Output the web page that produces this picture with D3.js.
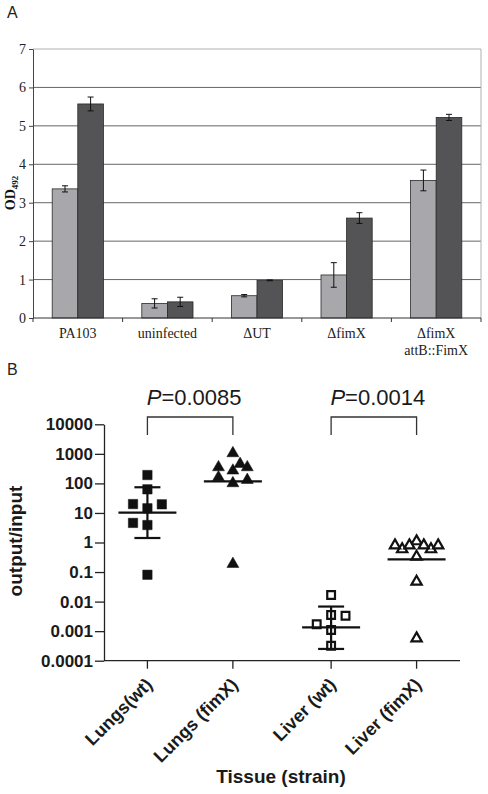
<!DOCTYPE html>
<html><head><meta charset="utf-8">
<script src="https://cdnjs.cloudflare.com/ajax/libs/d3/7.8.5/d3.min.js"></script>
<style>body{margin:0;background:#fff} svg{display:block}</style>
</head><body>
<script>
// ---------- Panel A data ----------
const categoriesA = [["PA103"], ["uninfected"], ["ΔUT"], ["ΔfimX"], ["ΔfimX", "attB::FimX"]];
const seriesLight = [3.36, 0.38, 0.58, 1.12, 3.58];
const errLight    = [0.08, 0.12, 0.03, 0.32, 0.27];
const seriesDark  = [5.57, 0.42, 0.98, 2.60, 5.22];
const errDark     = [0.18, 0.12, 0.01, 0.14, 0.08];
const ticksA = [0, 1, 2, 3, 4, 5, 6, 7];

// ---------- Panel B data ----------
const tissues = ["Lungs", "Liver"];
const strains = ["wt", "fimX"];
const groupLabels = ["Lungs(wt)", "Lungs (fimX)", "Liver (wt)", "Liver (fimX)"];
const lungsWt   = [192, 63, 14.4, 20, 19.6, 3.9, 4.6, 0.081];
const lungsFimX = [1047, 271, 351, 351, 454, 101, 161, 130, 0.187];
const liverWt   = [0.0167, 0.0035, 0.0011, 0.0017, 0.0033, 0.00032];
const liverFimX = [1.1, 0.33, 0.59, 0.59, 0.80, 0.80, 0.80, 0.80, 0.047, 0.00057];
const groupMeans = [10.2, 117, 0.00135, 0.27];
const ciLow  = [1.42, null, 0.00025, null];
const ciHigh = [74, null, 0.0068, null];
const ticksB = [1e-4, 1e-3, 1e-2, 1e-1, 1, 10, 100, 1000, 10000];
const tickLabelsB = ["0.0001", "0.001", "0.01", "0.1", "1", "10", "100", "1000", "10000"];
const pValues = ["0.0085", "0.0014"];

const W = 488, H = 794;
const svg = d3.select("body").append("svg").attr("width", W).attr("height", H);

// ================= Panel A =================
const serif = "'Liberation Serif','Times New Roman',serif";
const sans = "'Liberation Sans',Arial,sans-serif";
svg.append("text").attr("x", 7).attr("y", 18).attr("font-family", sans).attr("font-size", 16).attr("fill", "#222").text("A");

const yA = d3.scaleLinear().domain([0, 7]).range([318, 49]);
const xA = d3.scaleBand().domain(d3.range(categoriesA.length)).range([33, 481]).padding(0);
const x1 = d3.scaleBand().domain([0, 1]).range([0, xA.bandwidth()]).paddingInner(0).paddingOuter(0.75);

const gA = svg.append("g");
gA.selectAll("line.grid").data(ticksA.filter(t => t > 0 && t < 7)).join("line")
  .attr("x1", 33).attr("x2", 481).attr("y1", d => yA(d)).attr("y2", d => yA(d))
  .attr("stroke", "#666").attr("stroke-width", 1);
gA.append("line").attr("x1", 33).attr("x2", 481).attr("y1", yA(7)).attr("y2", yA(7)).attr("stroke", "#b0b0b0");
gA.append("line").attr("x1", 481).attr("x2", 481).attr("y1", yA(7)).attr("y2", yA(0)).attr("stroke", "#b0b0b0");

const axA = gA.append("g").attr("transform", "translate(33,0)")
  .call(d3.axisLeft(yA).tickValues(ticksA).tickFormat(d3.format("d")).tickSize(4).tickSizeOuter(0).tickPadding(3));
axA.selectAll("text").attr("font-family", serif).attr("font-size", 14).attr("fill", "#222");
axA.selectAll("line,path").attr("stroke", "#444");

const groupsA = categoriesA.map((c, i) => ({ i, vals: [
  { s: 0, v: seriesLight[i], e: errLight[i] },
  { s: 1, v: seriesDark[i], e: errDark[i] } ] }));
const barFill = ["#a8a8ac", "#545456"];
const gBars = gA.selectAll("g.grp").data(groupsA).join("g").attr("transform", d => `translate(${xA(d.i)},0)`);
gBars.selectAll("rect").data(d => d.vals).join("rect")
  .attr("x", d => x1(d.s)).attr("width", x1.bandwidth())
  .attr("y", d => yA(d.v)).attr("height", d => yA(0) - yA(d.v))
  .attr("fill", d => barFill[d.s]).attr("stroke", "#2a2a2a").attr("stroke-width", 0.8);
const eb = gBars.selectAll("g.eb").data(d => d.vals).join("g");
eb.append("line").attr("x1", d => x1(d.s) + x1.bandwidth() / 2).attr("x2", d => x1(d.s) + x1.bandwidth() / 2)
  .attr("y1", d => yA(d.v + d.e)).attr("y2", d => yA(d.v - d.e)).attr("stroke", "#111");
[1, -1].forEach(sg => {
  eb.append("line").attr("x1", d => x1(d.s) + x1.bandwidth() / 2 - 3).attr("x2", d => x1(d.s) + x1.bandwidth() / 2 + 3)
    .attr("y1", d => yA(d.v + sg * d.e)).attr("y2", d => yA(d.v + sg * d.e)).attr("stroke", "#111");
});

gA.append("line").attr("x1", 33).attr("x2", 481).attr("y1", yA(0)).attr("y2", yA(0)).attr("stroke", "#333");
const bounds = xA.domain().map(d => xA(d)).concat([xA.range()[1]]);
gA.selectAll("line.xt").data(bounds).join("line")
  .attr("x1", d => d).attr("x2", d => d).attr("y1", yA(0)).attr("y2", yA(0) + 4).attr("stroke", "#333");
const xl = gA.selectAll("text.xl").data(categoriesA).join("text")
  .attr("font-family", serif).attr("font-size", 14).attr("fill", "#222").attr("text-anchor", "middle");
xl.each(function (lines, i) {
  const t = d3.select(this);
  lines.forEach((ln, k) => t.append("tspan").attr("x", xA(i) + xA.bandwidth() / 2).attr("y", 338 + k * 17).text(ln));
});
const yl = gA.append("text").attr("transform", "translate(15,193) rotate(-90)").attr("text-anchor", "middle")
  .attr("font-family", serif).attr("font-weight", "bold").attr("font-size", 14).attr("fill", "#111");
yl.append("tspan").text("OD");
yl.append("tspan").attr("font-size", 9).attr("dy", 3).text("492");

// ================= Panel B =================
svg.append("text").attr("x", 7).attr("y", 375).attr("font-family", sans).attr("font-size", 16).attr("fill", "#222").text("B");

const yB = d3.scaleLog().domain([1e-4, 1e4]).range([660.7, 424.3]);
const xOuter = d3.scaleBand().domain(tissues).range([104, 460]).paddingInner(0.062).paddingOuter(0);
const xInner = d3.scalePoint().domain(strains).range([0, xOuter.bandwidth()]).padding(0.508);
const groupX = groupLabels.map((g, i) => xOuter(tissues[Math.floor(i / 2)]) + xInner(strains[i % 2]));

const gB = svg.append("g");
const axB = gB.append("g").attr("transform", "translate(104,0)")
  .call(d3.axisLeft(yB).tickValues(ticksB).tickFormat((d, i) => tickLabelsB[i]).tickSize(9).tickSizeOuter(0).tickPadding(2));
axB.selectAll("text").attr("font-family", sans).attr("font-weight", "bold").attr("font-size", 17).attr("fill", "#1a1a1a");
axB.selectAll("line,path").attr("stroke", "#222").attr("stroke-width", 1.3);

gB.append("line").attr("x1", 104).attr("x2", 460).attr("y1", yB(1e-4)).attr("y2", yB(1e-4)).attr("stroke", "#222").attr("stroke-width", 1.3);
gB.selectAll("line.xt").data(groupX).join("line")
  .attr("x1", d => d).attr("x2", d => d).attr("y1", yB(1e-4)).attr("y2", yB(1e-4) + 8).attr("stroke", "#222").attr("stroke-width", 1.3);
gB.selectAll("text.xl").data(groupLabels).join("text")
  .attr("transform", (d, i) => `translate(${groupX[i] + 6},${yB(1e-4) + 25}) rotate(-45)`)
  .attr("text-anchor", "end").attr("font-family", sans).attr("font-weight", "bold").attr("font-size", 18)
  .attr("fill", "#1a1a1a").text(d => d);
gB.append("text").attr("x", 281).attr("y", 783).attr("text-anchor", "middle").attr("font-family", sans)
  .attr("font-weight", "bold").attr("font-size", 19).attr("fill", "#1a1a1a").text("Tissue (strain)");
gB.append("text").attr("transform", "translate(22,541) rotate(-90)").attr("text-anchor", "middle").attr("font-family", sans)
  .attr("font-weight", "bold").attr("font-size", 19).attr("fill", "#1a1a1a").text("output/input");

// dodge layout (computed from values)
const HALF = 7.2;
function dodge(values, cx) {
  const cand = [0, -2, 2, 1, -1, 3, -3, 4, -4, 5, -5];
  const placed = [];
  values.forEach(v => {
    const y = yB(v);
    for (const c of cand) {
      if (!placed.some(p => p.c === c && Math.abs(p.y - y) < 9.5)) { placed.push({ v, y, c }); break; }
    }
  });
  return placed.map(p => ({ ...p, x: cx + p.c * HALF }));
}
const groupData = [lungsWt, lungsFimX, liverWt, liverFimX];
const symType = [d3.symbolSquare, d3.symbolTriangle, d3.symbolSquare, d3.symbolTriangle];
const symSize = [88, 62, 60, 46];
const filled = [true, true, false, false];

groupData.forEach((vals, gi) => {
  const pts = dodge(vals, groupX[gi]);
  gB.selectAll(null).data(pts).join("path")
    .attr("transform", d => `translate(${d.x},${d.y})`)
    .attr("d", d3.symbol().type(symType[gi]).size(symSize[gi]))
    .attr("fill", filled[gi] ? "#111" : "#fff")
    .attr("stroke", "#111").attr("stroke-width", filled[gi] ? 0.5 : 2.2);
  gB.append("line").attr("x1", groupX[gi] - 29).attr("x2", groupX[gi] + 29)
    .attr("y1", yB(groupMeans[gi])).attr("y2", yB(groupMeans[gi])).attr("stroke", "#111").attr("stroke-width", 2.2);
  if (ciLow[gi] != null) {
    gB.append("line").attr("x1", groupX[gi]).attr("x2", groupX[gi])
      .attr("y1", yB(ciLow[gi])).attr("y2", yB(ciHigh[gi])).attr("stroke", "#111").attr("stroke-width", 2.2);
    [ciLow[gi], ciHigh[gi]].forEach(v => {
      gB.append("line").attr("x1", groupX[gi] - 13).attr("x2", groupX[gi] + 13)
        .attr("y1", yB(v)).attr("y2", yB(v)).attr("stroke", "#111").attr("stroke-width", 2.2);
    });
  }
});

pValues.forEach((p, k) => {
  const xa = groupX[2 * k], xb = groupX[2 * k + 1];
  const top = 417;
  gB.append("path").attr("d", `M${xa},${top + 18}V${top}H${xb}V${top + 18}`)
    .attr("fill", "none").attr("stroke", "#333").attr("stroke-width", 1.3);
  const t = gB.append("text").attr("x", (xa + xb) / 2 + 4).attr("y", 405).attr("text-anchor", "middle")
    .attr("font-family", sans).attr("font-size", 22).attr("fill", "#1a1a1a");
  t.append("tspan").attr("font-style", "italic").text("P");
  t.append("tspan").text("=" + p);
});
</script>
</body></html>
